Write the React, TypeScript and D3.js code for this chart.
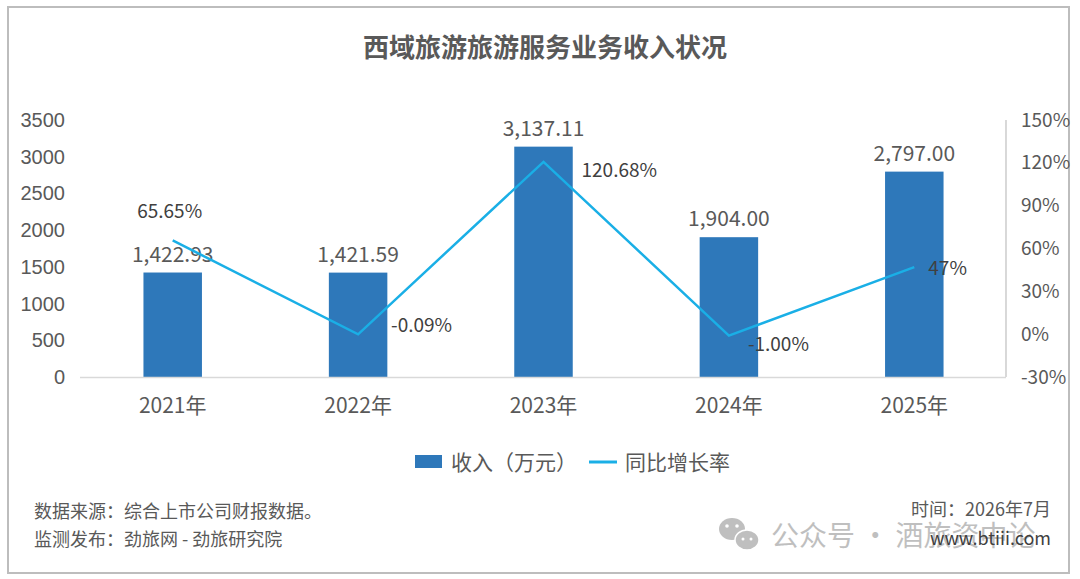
import React from "react";
import * as d3 from "d3";

const categories = ["2021年", "2022年", "2023年", "2024年", "2025年"];
const revenue = [1422.93, 1421.59, 3137.11, 1904.0, 2797.0];
const growth = [65.65, -0.09, 120.68, -1.0, 47];
const revenueLabels = ["1,422.93", "1,421.59", "3,137.11", "1,904.00", "2,797.00"];
const growthLabels = ["65.65%", "-0.09%", "120.68%", "-1.00%", "47%"];
const leftTicks = [0, 500, 1000, 1500, 2000, 2500, 3000, 3500];
const rightTicks = [-30, 0, 30, 60, 90, 120, 150];
// label placement offsets relative to the line point (layout, not data)
const growthLabelAnchor = ["middle", "start", "start", "start", "start"];
const growthLabelDx = [-3, 33, 38, 19, 14];
const growthLabelDy = [-22, -2, 15, 15, 8];

const W = 1080;
const H = 579;
const CJK = "'Noto Sans CJK SC', 'Noto Sans', sans-serif";
const SANS = "'Liberation Sans', Arial, sans-serif";
const GRAY = "#595959";

export default function App() {
  const x = d3
    .scaleBand<string>()
    .domain(categories)
    .range([80, 1007])
    .paddingInner(0.6845)
    .paddingOuter(0.6845 / 2);
  const yL = d3.scaleLinear().domain([0, 3500]).range([377, 120]);
  const yR = d3.scaleLinear().domain([-30, 150]).range([377, 120]);
  const cx = (c: string) => (x(c) as number) + x.bandwidth() / 2;

  const line = d3
    .line<number>()
    .x((_, i) => cx(categories[i]))
    .y((d) => yR(d));

  return (
    <svg
      width={W}
      height={H}
      style={{ position: "absolute", left: 0, top: 0, background: "#fff" }}
    >
      <rect x={0} y={0} width={W} height={H} fill="#fff" />
      <rect x={8} y={7} width={1061} height={566} fill="#fff" stroke="#bdbdbd" strokeWidth={2} />

      <text
        x={545}
        y={57}
        textAnchor="middle"
        fontFamily={CJK}
        fontSize={26}
        fontWeight={700}
        fill={GRAY}
      >
        西域旅游旅游服务业务收入状况
      </text>

      {/* left axis ticks */}
      {leftTicks.map((t) => (
        <text
          key={"l" + t}
          x={65}
          y={yL(t)}
          dy="0.35em"
          textAnchor="end"
          fontFamily={SANS}
          fontSize={20}
          fill={GRAY}
        >
          {t}
        </text>
      ))}

      {/* right axis */}
      <line x1={1006} x2={1006} y1={120} y2={377} stroke="#bfbfbf" strokeWidth={1.2} />
      {rightTicks.map((t) => (
        <text
          key={"r" + t}
          x={1021}
          y={yR(t)}
          dy="0.35em"
          textAnchor="start"
          fontFamily={CJK}
          fontSize={19}
          fill={GRAY}
        >
          {t + "%"}
        </text>
      ))}

      {/* bars */}
      {categories.map((c, i) => (
        <rect
          key={"b" + c}
          x={x(c)}
          y={yL(revenue[i])}
          width={x.bandwidth()}
          height={yL(0) - yL(revenue[i])}
          fill="#2E78BA"
        />
      ))}

      {/* x baseline */}
      <line x1={80} x2={1006} y1={377.5} y2={377.5} stroke="#d9d9d9" strokeWidth={1.5} />

      {/* x labels */}
      {categories.map((c) => (
        <text
          key={"x" + c}
          x={cx(c)}
          y={413}
          textAnchor="middle"
          fontFamily={CJK}
          fontSize={21}
          fill={GRAY}
        >
          {c}
        </text>
      ))}

      {/* bar labels */}
      {categories.map((c, i) => (
        <text
          key={"bl" + c}
          x={cx(c)}
          y={yL(revenue[i]) - 11}
          textAnchor="middle"
          fontFamily={CJK}
          fontSize={21}
          fill={GRAY}
        >
          {revenueLabels[i]}
        </text>
      ))}

      {/* growth line */}
      <path d={line(growth) || ""} fill="none" stroke="#1AAFE6" strokeWidth={2.5} />

      {/* growth labels */}
      {categories.map((c, i) => (
        <text
          key={"gl" + c}
          x={cx(c) + growthLabelDx[i]}
          y={yR(growth[i]) + growthLabelDy[i]}
          textAnchor={growthLabelAnchor[i] as any}
          fontFamily={CJK}
          fontSize={19}
          fill="#404040"
        >
          {growthLabels[i]}
        </text>
      ))}

      {/* legend */}
      <rect x={415} y={455} width={27} height={13} fill="#2E78BA" />
      <text x={451} y={470} fontFamily={CJK} fontSize={21} fill={GRAY}>
        收入（万元）
      </text>
      <line x1={589} x2={617} y1={462} y2={462} stroke="#1AAFE6" strokeWidth={3} />
      <text x={625} y={470} fontFamily={CJK} fontSize={21} fill={GRAY}>
        同比增长率
      </text>

      {/* footer */}
      <text x={34} y={518} fontFamily={CJK} fontSize={18} fill={GRAY}>
        数据来源：综合上市公司财报数据。
      </text>
      <text x={34} y={546} fontFamily={CJK} fontSize={18} fill={GRAY}>
        监测发布：劲旅网 - 劲旅研究院
      </text>
      <text x={1051} y={516} textAnchor="end" fontFamily={CJK} fontSize={18} fill={GRAY}>
        时间：2026年7月
      </text>

      {/* watermark */}
      <g opacity={0.55}>
        <ellipse cx={732} cy={529} rx={13} ry={11} fill="#8c8c8c" />
        <ellipse cx={747} cy={540} rx={12} ry={10} fill="#8c8c8c" stroke="#fff" strokeWidth={1.5} />
        <circle cx={727} cy={526} r={1.8} fill="#fff" />
        <circle cx={737} cy={526} r={1.8} fill="#fff" />
        <circle cx={743} cy={539} r={1.5} fill="#fff" />
        <circle cx={751} cy={539} r={1.5} fill="#fff" />
        <text x={771} y={546} fontFamily={CJK} fontSize={28} fill="#8c8c8c">
          公众号 · 酒旅资中论
        </text>
      </g>
      <text x={1051} y={545} textAnchor="end" fontFamily={CJK} fontSize={18} fill="#404040">
        www.btiii.com
      </text>
    </svg>
  );
}
